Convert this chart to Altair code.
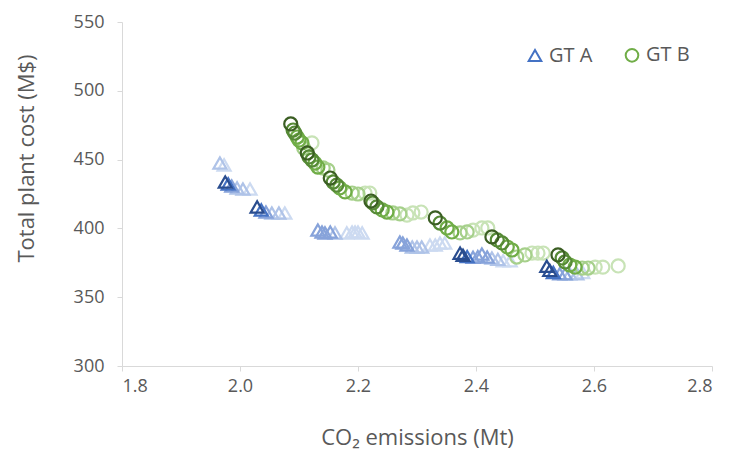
import altair as alt
import pandas as pd

# ---- data ----
gta_x = [1.966, 1.973, 1.975, 1.980, 1.986, 1.995, 2.005, 2.017,
         2.029, 2.036, 2.044, 2.054, 2.066, 2.076,
         2.132, 2.139, 2.144, 2.153, 2.161, 2.181, 2.190, 2.195, 2.200, 2.207,
         2.271, 2.276, 2.283, 2.292, 2.300, 2.308, 2.322, 2.331, 2.339, 2.347,
         2.373, 2.378, 2.385, 2.395, 2.403, 2.410, 2.419, 2.427, 2.437, 2.446, 2.458,
         2.520, 2.525, 2.531, 2.542, 2.551, 2.559, 2.571, 2.581]
gta_y = [447.5, 446.1, 433.7, 432.3, 430.8, 429.4, 428.6, 428.6,
         415.6, 413.4, 411.9, 411.2, 411.2, 411.2,
         398.8, 397.4, 396.7, 397.4, 396.7, 396.7, 397.4, 397.4, 397.4, 396.7,
         390.1, 389.4, 387.9, 386.5, 386.5, 386.5, 387.9, 387.9, 389.4, 389.4,
         382.0, 380.5, 379.5, 379.0, 379.5, 381.4, 379.2, 378.5, 377.5, 376.5, 376.5,
         372.5, 369.5, 368.0, 367.0, 367.0, 367.0, 367.0, 368.0]
gta_shade = [3, 4, 0, 1, 2, 3, 3, 4,
             0, 1, 2, 3, 3, 4,
             2, 2, 2, 2, 3, 4, 4, 4, 4, 4,
             2, 2, 2, 3, 3, 3, 4, 4, 4, 4,
             0, 0, 1, 2, 2, 2, 2, 3, 3, 4, 4,
             0, 0, 1, 2, 2, 3, 3, 4]

gtb_x = [2.086, 2.090, 2.093, 2.097, 2.100, 2.105, 2.108, 2.122,
         2.114, 2.117, 2.122, 2.127, 2.132, 2.141, 2.149,
         2.153, 2.158, 2.164, 2.169, 2.178, 2.190, 2.200, 2.212, 2.220,
         2.222, 2.225, 2.232, 2.241, 2.249, 2.259, 2.271, 2.283, 2.293, 2.307,
         2.331, 2.339, 2.351, 2.359, 2.373, 2.385, 2.395, 2.410, 2.420,
         2.427, 2.436, 2.444, 2.453, 2.461, 2.469, 2.483, 2.495, 2.505, 2.514,
         2.539, 2.546, 2.551, 2.559, 2.568, 2.580, 2.590, 2.602, 2.615, 2.641]
gtb_y = [475.9, 471.5, 469.3, 466.4, 464.2, 462.1, 458.4, 462.1,
         454.8, 451.9, 449.7, 447.5, 444.6, 443.9, 442.4,
         436.6, 433.7, 431.5, 429.4, 426.5, 425.7, 425.0, 425.7, 425.7,
         419.9, 418.5, 415.6, 413.4, 411.9, 411.2, 410.5, 409.7, 411.2, 411.9,
         407.6, 403.9, 400.3, 397.4, 396.7, 397.4, 398.8, 400.3, 400.3,
         393.8, 391.6, 389.4, 386.5, 384.3, 379.2, 380.7, 382.1, 382.1, 382.1,
         380.7, 378.5, 375.6, 373.4, 371.9, 371.2, 371.2, 371.9, 371.9, 372.7]
gtb_shade = [0, 1, 1, 2, 2, 2, 3, 4,
             0, 1, 1, 2, 2, 3, 3,
             0, 1, 1, 2, 2, 3, 3, 4, 4,
             0, 1, 1, 2, 2, 3, 3, 4, 4, 4,
             0, 1, 2, 2, 3, 3, 4, 4, 4,
             0, 1, 1, 2, 2, 3, 3, 4, 4, 4,
             0, 1, 1, 2, 2, 3, 3, 4, 4, 4]

series_names = ["GT A", "GT B"]
blue_shades = ["#2A4D8F", "#4472C4", "#87A3DA", "#AFC3E8", "#CCDAF1"]
green_shades = ["#3B5E23", "#568A36", "#70AD47", "#A6D08B", "#C8E3B6"]

def key_for(series, shade):
    if series == "GT A" and shade == 1:
        return "GT A"
    if series == "GT B" and shade == 2:
        return "GT B"
    return ("A" if series == "GT A" else "B") + str(shade)

rows = []
for x, y, s in zip(gta_x, gta_y, gta_shade):
    rows.append({"x": x, "y": y, "series": "GT A", "shade": s, "key": key_for("GT A", s)})
for x, y, s in zip(gtb_x, gtb_y, gtb_shade):
    rows.append({"x": x, "y": y, "series": "GT B", "shade": s, "key": key_for("GT B", s)})
df = pd.DataFrame(rows)
df = df.sort_values("shade", ascending=False, kind="stable")

domain, crange, srange = [], [], []
for i in range(5):
    domain.append(key_for("GT A", i)); crange.append(blue_shades[i]); srange.append("triangle-up")
for i in range(5):
    domain.append(key_for("GT B", i)); crange.append(green_shades[i]); srange.append("circle")

FONT = "Open Sans"
TXT = "#595959"
LINE = "#D9D9D9"

legend = alt.Legend(
    title=None, values=series_names, orient="none", direction="horizontal",
    legendX=403, legendY=23, labelFontSize=20, labelColor=TXT, labelFont=FONT,
    symbolStrokeWidth=2, symbolSize=160, columnPadding=28, labelOffset=4,
)

chart = alt.Chart(df).mark_point(filled=False, strokeWidth=2.2, opacity=1).encode(
    x=alt.X("x:Q", scale=alt.Scale(domain=[1.8, 2.8], nice=False, zero=False),
            axis=alt.Axis(title="CO₂ emissions (Mt)", values=[1.8, 2.0, 2.2, 2.4, 2.6, 2.8],
                          format=".1f", grid=False, domainColor=LINE, tickColor=LINE,
                          tickSize=5, labelPadding=6, labelFontSize=18, titleFontSize=22,
                          titlePadding=32, labelColor=TXT, titleColor=TXT,
                          labelFont=FONT, titleFont=FONT, titleFontWeight="normal")),
    y=alt.Y("y:Q", scale=alt.Scale(domain=[300, 550], nice=False, zero=False),
            axis=alt.Axis(title="Total plant cost (M$)", values=[300, 350, 400, 450, 500, 550],
                          grid=False, domainColor=LINE, tickColor=LINE, tickSize=5,
                          labelPadding=13, labelFontSize=18, titleFontSize=22,
                          titleX=-96, titleY=136, titleAlign="center", titleBaseline="middle",
                          labelColor=TXT, titleColor=TXT,
                          labelFont=FONT, titleFont=FONT, titleFontWeight="normal")),
    color=alt.Color("key:N", scale=alt.Scale(domain=domain, range=crange), legend=legend),
    shape=alt.Shape("key:N", scale=alt.Scale(domain=domain, range=srange), legend=legend),
    size=alt.SizeValue(170),
).properties(
    width=590, height=344,
    autosize=alt.AutoSizeParams(type="none"),
    padding={"left": 122, "top": 22, "right": 25, "bottom": 84},
    background="white",
).configure_view(stroke=None)

chart.save("out.html", embed_options={"renderer": "svg", "actions": False})
